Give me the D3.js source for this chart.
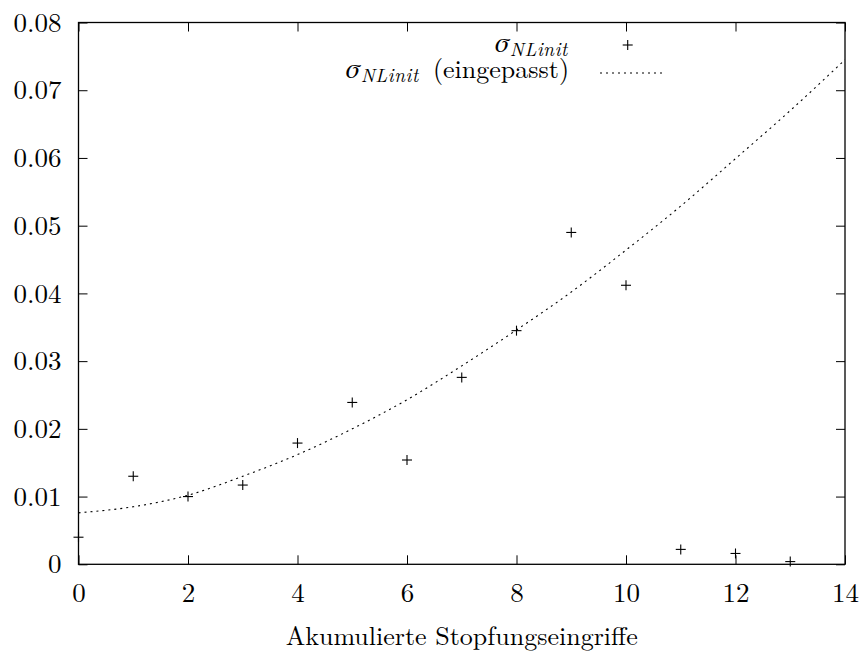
<!DOCTYPE html>
<html>
<head>
<meta charset="utf-8">
<script src="https://cdn.jsdelivr.net/npm/d3@7"></script>
<style>
  html, body { margin: 0; padding: 0; background: #fff; }
  svg { display: block; }
  svg text { font-family: 'Latin Modern Roman', 'Liberation Serif', serif; }
</style>
</head>
<body>
<script>
// ---- data ----
const xTicks = [0, 2, 4, 6, 8, 10, 12, 14];
const yTicks = [0, 0.01, 0.02, 0.03, 0.04, 0.05, 0.06, 0.07, 0.08];
const yTickLabels = ["0", "0.01", "0.02", "0.03", "0.04", "0.05", "0.06", "0.07", "0.08"];
const eingriffe = [0, 1, 2, 3, 4, 5, 6, 7, 8, 9, 10, 11, 12, 13];
const sigmaValues = [0.0040, 0.0130, 0.0100, 0.0117, 0.0179, 0.0239, 0.0154, 0.0276, 0.0345, 0.0490, 0.0412, 0.0022, 0.0016, 0.0004];
const fitX = [0, 1, 2, 3, 4, 5, 6, 7, 8, 9, 10, 11, 12, 13, 14];
const fitValues = [0.0076, 0.0085, 0.0102, 0.0130, 0.0162, 0.0200, 0.0243, 0.0293, 0.0346, 0.0402, 0.0464, 0.0529, 0.0599, 0.0670, 0.0745];
const xTitle = "Akumulierte Stopfungseingriffe";

// ---- layout ----
const W = 866, H = 655;
const L = 78.5, R = 845, T = 22.5, B = 564.3;
const FS = 26, TFS = 27;
const FONT = "'Latin Modern Roman', 'Liberation Serif', serif";

const svg = d3.select("body").append("svg").attr("width", W).attr("height", H);

const x = d3.scaleLinear().domain([0, 14]).range([L, R]);
const y = d3.scaleLinear().domain([0, 0.08]).range([B, T]);

svg.append("defs").append("clipPath").attr("id", "plot")
  .append("rect").attr("x", L).attr("y", T).attr("width", R - L).attr("height", B - T);

function styleAxis(g) {
  g.attr("font-family", null).attr("font-size", null);
  g.selectAll("path").remove();
  g.selectAll("line").attr("stroke", "#000").attr("stroke-width", 1);
  g.selectAll("text").style("font-family", FONT).style("font-size", TFS + "px").attr("fill", "#000");
}

// bottom axis
svg.append("g").attr("transform", `translate(0,${B})`)
  .call(d3.axisBottom(x).tickValues(xTicks).tickSizeInner(-9).tickSizeOuter(0).tickPadding(19).tickFormat(d3.format("d")))
  .call(styleAxis);
// top axis
svg.append("g").attr("transform", `translate(0,${T})`)
  .call(d3.axisTop(x).tickValues(xTicks).tickSizeInner(-9).tickSizeOuter(0).tickFormat(""))
  .call(styleAxis);
// left axis
svg.append("g").attr("transform", `translate(${L},0)`)
  .call(d3.axisLeft(y).tickValues(yTicks).tickSizeInner(-9).tickSizeOuter(0).tickPadding(17)
    .tickFormat((d, i) => yTickLabels[i]))
  .call(styleAxis);
// right axis
svg.append("g").attr("transform", `translate(${R},0)`)
  .call(d3.axisRight(y).tickValues(yTicks).tickSizeInner(-9).tickSizeOuter(0).tickFormat(""))
  .call(styleAxis);

// frame
svg.append("rect").attr("x", L).attr("y", T).attr("width", R - L).attr("height", B - T)
  .attr("fill", "none").attr("stroke", "#000").attr("stroke-width", 1.3);

// fitted curve
const line = d3.line().x((d, i) => x(fitX[i])).y(d => y(d)).curve(d3.curveMonotoneX);
svg.append("path").attr("d", line(fitValues)).attr("clip-path", "url(#plot)")
  .attr("fill", "none").attr("stroke", "#000").attr("stroke-width", 1.1)
  .attr("stroke-dasharray", "2,4");

// points
const s = 5;
const pts = svg.append("g").attr("stroke", "#000").attr("stroke-width", 1.1);
eingriffe.forEach((e, i) => {
  const cx = x(e), cy = y(sigmaValues[i]);
  pts.append("line").attr("x1", cx - s).attr("x2", cx + s).attr("y1", cy).attr("y2", cy);
  pts.append("line").attr("x1", cx).attr("x2", cx).attr("y1", cy - s).attr("y2", cy + s);
});

// x-axis title
svg.append("text").attr("x", (L + R) / 2).attr("y", 645).attr("text-anchor", "middle")
  .style("font-family", FONT).style("font-size", FS + "px").text(xTitle);

// legend
function sigmaLabel(g, xr, yb, extra) {
  const t = g.append("text").attr("x", xr).attr("y", yb).attr("text-anchor", "end")
    .style("font-family", FONT).style("font-size", FS + "px");
  t.append("tspan").style("font-family", "'FreeSerif', 'Liberation Serif', serif").style("font-style", "italic")
    .style("font-weight", "400").style("font-size", "28px").text("σ");
  t.append("tspan").style("font-style", "italic").style("font-size", "19px")
    .style("letter-spacing", "0.6px").attr("dx", 1).attr("dy", 4).text("NLinit");
  if (extra) t.append("tspan").attr("dy", -4).attr("dx", 1).text("\u00a0" + extra);
}
const leg = svg.append("g");
sigmaLabel(leg, 568, 52, null);
const lx = 627.7, ly = 45;
leg.append("line").attr("x1", lx - s).attr("x2", lx + s).attr("y1", ly).attr("y2", ly).attr("stroke", "#000").attr("stroke-width", 1.1);
leg.append("line").attr("x1", lx).attr("x2", lx).attr("y1", ly - s).attr("y2", ly + s).attr("stroke", "#000").attr("stroke-width", 1.1);
sigmaLabel(leg, 569, 78, "(eingepasst)");
leg.append("line").attr("x1", 600).attr("x2", 664).attr("y1", 73).attr("y2", 73)
  .attr("stroke", "#000").attr("stroke-width", 1.1).attr("stroke-dasharray", "2,4");
</script>
</body>
</html>
